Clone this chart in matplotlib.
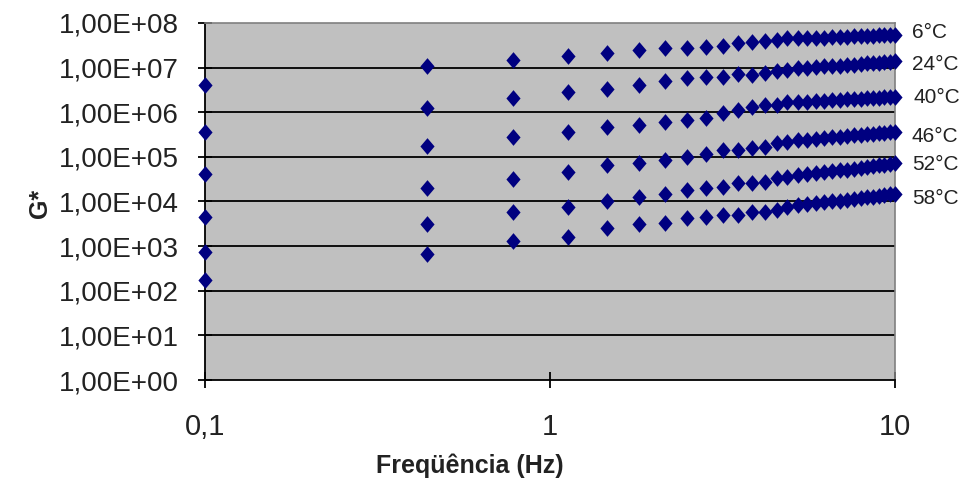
import matplotlib
matplotlib.use("Agg")
import matplotlib.pyplot as plt
from matplotlib.path import Path
from matplotlib.ticker import FixedLocator, FuncFormatter, NullLocator

plt.rcParams['font.family'] = ['Liberation Sans', 'DejaVu Sans']

# frequencies (Hz)
freq = [0.1, 0.441, 0.783, 1.124, 1.466, 1.807, 2.148, 2.490, 2.831, 3.172,
        3.514, 3.855, 4.197, 4.538, 4.879, 5.221, 5.562, 5.903, 6.245, 6.586,
        6.928, 7.269, 7.610, 7.952, 8.293, 8.634, 8.976, 9.317, 9.659, 10.0]

# G* per temperature
g_6 = [4.1e6, 1.09e7, 1.48e7, 1.85e7, 2.16e7, 2.48e7, 2.79e7, 2.82e7, 2.94e7, 3.09e7,
       3.51e7, 3.80e7, 4.01e7, 4.17e7, 4.54e7, 4.50e7, 4.61e7, 4.68e7, 4.73e7, 4.85e7,
       4.90e7, 4.98e7, 5.01e7, 5.10e7, 5.16e7, 5.21e7, 5.25e7, 5.32e7, 5.37e7, 5.40e7]
g_24 = [3.6e5, 1.26e6, 2.1e6, 2.9e6, 3.4e6, 4.1e6, 5.0e6, 5.75e6, 6.25e6, 6.3e6,
        7.1e6, 7.0e6, 7.7e6, 8.4e6, 8.8e6, 9.6e6, 1.0e7, 1.03e7, 1.06e7, 1.09e7,
        1.11e7, 1.14e7, 1.17e7, 1.2e7, 1.24e7, 1.27e7, 1.3e7, 1.34e7, 1.37e7, 1.38e7]
g_40 = [4.1e4, 1.75e5, 2.8e5, 3.55e5, 4.6e5, 5.1e5, 6.2e5, 6.7e5, 7.3e5, 9.4e5,
        1.12e6, 1.33e6, 1.45e6, 1.44e6, 1.66e6, 1.72e6, 1.74e6, 1.78e6, 1.83e6, 1.88e6,
        1.93e6, 1.95e6, 1.98e6, 2.03e6, 2.06e6, 2.1e6, 2.14e6, 2.17e6, 2.19e6, 2.2e6]
g_46 = [4.5e3, 1.97e4, 3.2e4, 4.5e4, 6.5e4, 7.2e4, 8.5e4, 1.0e5, 1.14e5, 1.42e5,
        1.41e5, 1.55e5, 1.68e5, 2.0e5, 2.19e5, 2.38e5, 2.45e5, 2.57e5, 2.63e5, 2.73e5,
        2.85e5, 2.92e5, 3.02e5, 3.13e5, 3.21e5, 3.3e5, 3.37e5, 3.45e5, 3.52e5, 3.6e5]
g_52 = [7.4e2, 3.07e3, 5.9e3, 7.6e3, 1.04e4, 1.23e4, 1.5e4, 1.8e4, 1.97e4, 2.14e4,
        2.55e4, 2.55e4, 2.75e4, 3.3e4, 3.58e4, 3.9e4, 4.1e4, 4.35e4, 4.57e4, 4.75e4,
        4.98e4, 5.2e4, 5.45e4, 5.7e4, 5.9e4, 6.17e4, 6.45e4, 6.68e4, 6.9e4, 7.15e4]
g_58 = [1.7e2, 6.6e2, 1.3e3, 1.6e3, 2.5e3, 3.07e3, 3.3e3, 4.2e3, 4.55e3, 4.95e3,
        4.95e3, 5.9e3, 5.9e3, 6.4e3, 7.6e3, 8.3e3, 8.75e3, 9.2e3, 9.7e3, 1.0e4,
        1.05e4, 1.09e4, 1.13e4, 1.19e4, 1.24e4, 1.29e4, 1.35e4, 1.41e4, 1.47e4, 1.51e4]

series = [g_6, g_24, g_40, g_46, g_52, g_58]
temps = ["6°C", "24°C", "40°C", "46°C", "52°C", "58°C"]
label_y = [33, 65, 97, 137, 165, 198]   # pixel rows of the right-hand labels
label_x = [912, 912, 914, 912, 912, 912]

y_ticks = [1e0, 1e1, 1e2, 1e3, 1e4, 1e5, 1e6, 1e7, 1e8]
x_ticks = [0.1, 1, 10]
x_labels = ["0,1", "1", "10"]

W, H = 962, 486
fig = plt.figure(figsize=(W / 100, H / 100), dpi=100)
ax = fig.add_axes([205 / W, 1 - 380 / H, 690 / W, 357 / H])
ax.set_facecolor("#C0C0C0")

diamond = Path([(0, 1), (0.85, 0), (0, -1), (-0.85, 0), (0, 1)],
               [Path.MOVETO, Path.LINETO, Path.LINETO, Path.LINETO, Path.CLOSEPOLY])

for vals in series:
    ax.plot(freq, vals, linestyle="none", marker=diamond, markersize=12,
            color="#000080", markeredgewidth=0, clip_on=False, zorder=3)

ax.set_xscale("log")
ax.set_yscale("log")
ax.set_xlim(0.1, 10)
ax.set_ylim(1, 1e8)

ax.yaxis.set_major_locator(FixedLocator(y_ticks))
ax.yaxis.set_minor_locator(NullLocator())
ax.yaxis.set_major_formatter(FuncFormatter(
    lambda v, p: "1,00E+%02d" % round(__import__("math").log10(v))))
ax.xaxis.set_major_locator(FixedLocator(x_ticks))
ax.xaxis.set_minor_locator(NullLocator())
ax.set_xticklabels(x_labels)

for g in y_ticks[1:-1]:
    ax.axhline(g, color="black", linewidth=1.3, zorder=1)

for s in ["top", "right"]:
    ax.spines[s].set_color("#808080")
    ax.spines[s].set_linewidth(1.2)
for s in ["left", "bottom"]:
    ax.spines[s].set_color("black")
    ax.spines[s].set_linewidth(1.3)

ax.tick_params(axis="y", direction="inout", length=10, width=1.3, pad=14,
               labelsize=20, colors="black", labelcolor="#222222")
ax.tick_params(axis="x", direction="inout", length=12, width=1.3, pad=18,
               labelsize=21, colors="black", labelcolor="#222222")

fig.text(470 / W, 1 - 466 / H, "Freqüência (Hz)", ha="center", va="center",
         fontsize=18, fontweight="bold", color="#222222")
fig.text(40 / W, 1 - 203 / H, "G*", ha="center", va="center", rotation=90,
         fontsize=18, fontweight="bold", color="#222222")

for t, lx, ly in zip(temps, label_x, label_y):
    fig.text(lx / W, 1 - ly / H, t, ha="left", va="center", fontsize=15,
             color="#222222")

fig.savefig("out.png", dpi=100)
